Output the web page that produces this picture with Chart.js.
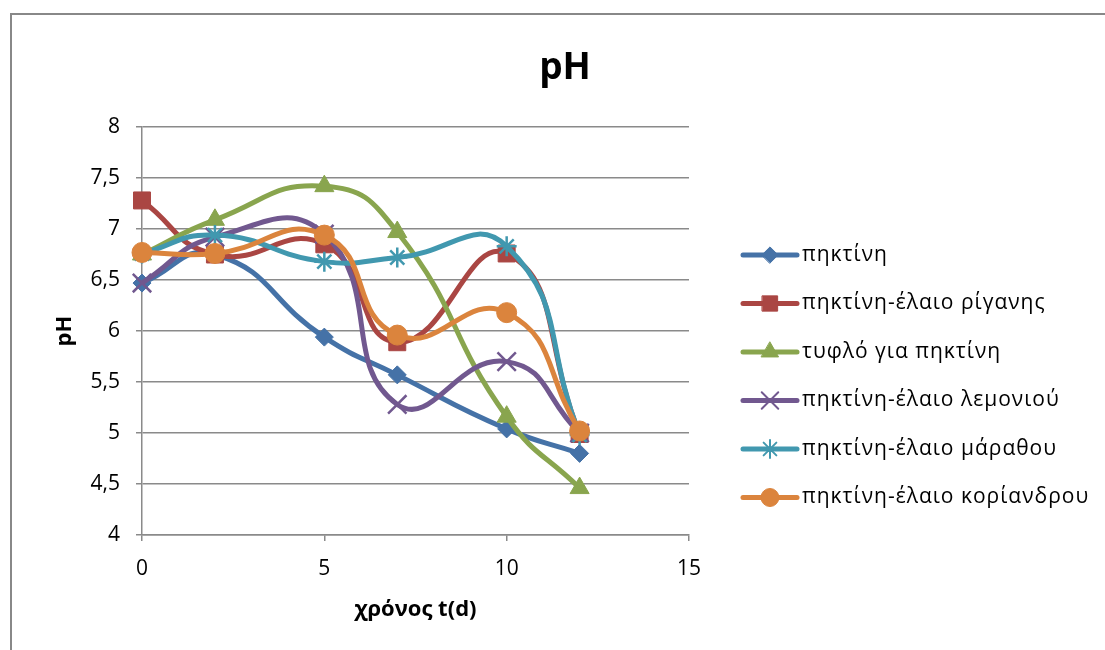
<!DOCTYPE html>
<html>
<head>
<meta charset="utf-8">
<script src="https://cdn.jsdelivr.net/npm/chart.js@4/dist/chart.umd.min.js"></script>
<style>
  body { margin: 0; background: #fff; }
  #wrap { width: 1105px; height: 650px; }
</style>
</head>
<body>
<div id="wrap"><canvas id="myChart" width="1105" height="650"></canvas></div>
<script>
// 데이터
const days = [0, 2, 5, 7, 10, 12];
const seriesNames = [
  "πηκτίνη",
  "πηκτίνη-έλαιο ρίγανης",
  "τυφλό για πηκτίνη",
  "πηκτίνη-έλαιο λεμονιού",
  "πηκτίνη-έλαιο μάραθου",
  "πηκτίνη-έλαιο κορίανδρου",
];
const pectin = [6.47, 6.75, 5.94, 5.57, 5.04, 4.8];
const oregano = [7.28, 6.75, 6.85, 5.89, 6.76, 4.99];
const blank = [6.75, 7.09, 7.42, 6.97, 5.16, 4.46];
const lemon = [6.47, 6.92, 6.95, 5.28, 5.7, 5.0];
const fennel = [6.76, 6.94, 6.68, 6.72, 6.83, 4.98];
const coriander = [6.77, 6.76, 6.94, 5.96, 6.18, 5.02];
const xTicks = [0, 5, 10, 15];
const yTicks = [4, 4.5, 5, 5.5, 6, 6.5, 7, 7.5, 8];

const allValues = [pectin, oregano, blank, lemon, fennel, coriander];
const colors = ["#4572A7", "#AA4643", "#89A54E", "#71588F", "#4198AF", "#DB843D"];
const styles = ["rectRot", "rect", "triangle", "crossRot", "star", "circle"];
const radii = [9, 12, 11, 13, 10, 10];
const FONT = "'Open Sans', 'Noto Sans', sans-serif";

function toPoints(vals) {
  return days.map(function (d, i) {
    return { x: d, y: vals[i] };
  });
}

const datasets = allValues.map(function (vals, i) {
  return {
    label: seriesNames[i],
    data: toPoints(vals),
    borderColor: colors[i],
    backgroundColor: colors[i],
    borderWidth: 5,
    tension: 0.5,
    showLine: true,
    pointStyle: styles[i],
    pointRadius: radii[i],
    pointHoverRadius: radii[i],
    pointBorderWidth: styles[i] == "crossRot" || styles[i] == "star" ? 2.5 : 1,
    pointBackgroundColor: colors[i],
    pointBorderColor: colors[i],
    clip: false,
    order: 6 - i, // 나중 시리즈가 위로
  };
});

// 바깥 테두리, 제목, 범례
const frame = {
  id: "frame",
  beforeDraw: function (chart) {
    const c = chart.ctx;
    c.save();
    c.fillStyle = "#fff";
    c.fillRect(0, 0, chart.width, chart.height);
    c.strokeStyle = "#888";
    c.lineWidth = 2;
    c.strokeRect(11, 14, 1200, 700);
    c.restore();
  },
  afterDraw: function (chart) {
    const c = chart.ctx;
    const area = chart.chartArea;
    c.save();
    // 제목
    c.fillStyle = "#000";
    c.font = "bold 37px " + FONT;
    c.textAlign = "center";
    c.textBaseline = "middle";
    c.fillText("pH", 565, 68);

    // 범례
    const x0 = area.right + 54;
    const y0 = area.top + 128;
    seriesNames.forEach(function (name, i) {
      const y = y0 + i * 48.5;
      c.strokeStyle = colors[i];
      c.lineWidth = 5;
      c.lineCap = "round";
      c.beginPath();
      c.moveTo(x0, y);
      c.lineTo(x0 + 54, y);
      c.stroke();
      const opts = {
        pointStyle: styles[i],
        radius: radii[i] * 0.9,
        rotation: 0,
        borderWidth: styles[i] == "crossRot" || styles[i] == "star" ? 2 : 1,
      };
      c.fillStyle = colors[i];
      c.strokeStyle = colors[i];
      c.lineWidth = opts.borderWidth;
      if (Chart.helpers && Chart.helpers.drawPoint) {
        Chart.helpers.drawPoint(c, opts, x0 + 27, y);
      }
      c.fillStyle = "#000";
      c.font = "21px " + FONT;
      c.letterSpacing = "1px";
      c.textBaseline = "middle";
      c.textAlign = "left";
      c.fillText(name, x0 + 59, y);
      c.letterSpacing = "0px";
    });
    c.restore();
  },
};

const ctx = document.getElementById("myChart").getContext("2d");
const myChart = new Chart(ctx, {
  type: "scatter",
  data: { datasets: datasets },
  plugins: [frame],
  options: {
    responsive: false,
    animation: false,
    layout: { padding: { left: 0, right: 416, top: 127, bottom: 0 } },
    plugins: {
      legend: { display: false },
      tooltip: { enabled: false },
      title: { display: false },
    },
    scales: {
      x: {
        type: "linear",
        min: 0,
        max: 15,
        afterBuildTicks: function (scale) {
          scale.ticks = xTicks.map(function (v) { return { value: v }; });
        },
        afterFit: function (scale) {
          scale.height = 115;
        },
        ticks: {
          color: "#000",
          font: { family: FONT, size: 21 },
          padding: 15,
          maxRotation: 0,
        },
        grid: {
          drawOnChartArea: false,
          drawTicks: true,
          tickLength: 6,
          color: "#8a8a8a",
          lineWidth: 1.5,
        },
        border: { display: true, color: "#8a8a8a", width: 1.5 },
        title: {
          display: true,
          text: "χρόνος t(d)",
          color: "#000",
          font: { family: FONT, size: 22, weight: "bold" },
          padding: { top: 4, bottom: 27 },
        },
      },
      y: {
        min: 4,
        max: 8,
        afterBuildTicks: function (scale) {
          scale.ticks = yTicks.map(function (v) { return { value: v }; });
        },
        afterFit: function (scale) {
          scale.width = 142;
        },
        ticks: {
          color: "#000",
          font: { family: FONT, size: 21 },
          padding: 16,
          callback: function (value) {
            return String(value).replace(".", ","); // 소수점 쉼표
          },
        },
        grid: {
          drawTicks: true,
          tickLength: 6,
          color: "#8a8a8a",
          lineWidth: 1.5,
        },
        border: { display: true, color: "#8a8a8a", width: 1.5 },
        title: {
          display: true,
          text: "pH",
          color: "#000",
          font: { family: FONT, size: 22, weight: "bold" },
          padding: { top: 52, bottom: 0 },
        },
      },
    },
  },
});
</script>
</body>
</html>
